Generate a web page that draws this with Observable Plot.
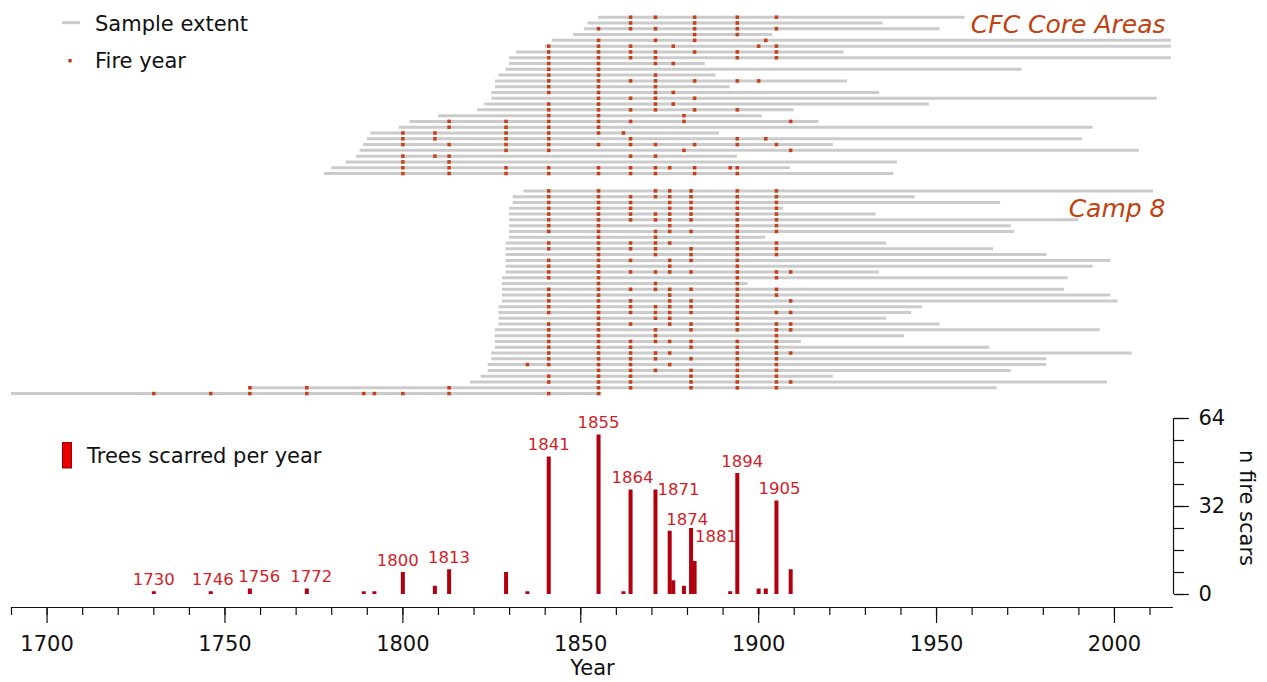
<!DOCTYPE html>
<html><head><meta charset="utf-8">
<script src="https://cdn.jsdelivr.net/npm/d3@7"></script>
<script src="https://cdn.jsdelivr.net/npm/@observablehq/plot@0.6"></script>
<style>
html,body{margin:0;padding:0;background:#fff;}
#chart{position:relative;width:1267px;height:682px;font-family:"DejaVu Sans",sans-serif;}
#chart > svg{display:block;overflow:visible;}
#legend{position:absolute;left:0;top:0;}
</style></head><body><div id="chart"></div>
<script>
// ---------- data ----------
const groupNames = ["CFC Core Areas", "Camp 8"];

const cfcStart = [1855,1852,1851,1848,1842,1840,1832,1830,1830,1829,1827,1826,1826,1825,1825,1823,1821,1810,1802,1799,1791,1790,1789,1788,1787,1784,1780,1778];
const cfcEnd   = [1958,1935,1951,1904,2016,2016,1924,2016,1885,1974,1888,1925,1892,1934,2012,1948,1910,1901,1917,1994,1889,1991,1921,2007,1894,1939,1909,1938];
const cfcFires = [
 [1864,1871,1882,1894,1905],
 [1864,1882,1894],
 [1855,1864,1871,1882,1894,1905],
 [1882,1894],
 [1855,1871,1882,1902],
 [1841,1855,1864,1876,1900,1905],
 [1841,1855,1864,1871,1882,1894,1905],
 [1841,1855,1864,1871,1894,1905],
 [1841,1855,1871,1876],
 [1841,1855],
 [1841,1855,1871],
 [1841,1855,1864,1871,1882,1894,1900],
 [1841,1855,1871],
 [1841,1855,1871,1876],
 [1855,1864,1871,1882],
 [1841,1855,1871,1876],
 [1841,1855,1864,1871,1882,1894],
 [1841,1855,1879],
 [1813,1829,1841,1855,1864,1879,1909],
 [1813,1829,1841,1855],
 [1800,1809,1829,1841,1855,1862],
 [1800,1809,1829,1841,1864,1894,1902],
 [1800,1813,1829,1841,1855,1864,1871,1882,1894,1905],
 [1829,1841,1879,1909],
 [1800,1809,1813,1864,1871],
 [1800,1813],
 [1800,1813,1829,1841,1855,1864,1871,1875,1882,1892,1894],
 [1800,1813,1829,1841,1855,1864,1871,1882,1894]
];

const camp8Start = [1834,1831,1831,1830,1830,1830,1830,1830,1830,1829,1829,1829,1829,1829,1829,1828,1828,1828,1828,1828,1827,1827,1827,1827,1826,1826,1826,1826,1825,1825,1824,1824,1822,1819,1757,1690];
const camp8End   = [2011,1944,1968,1907,1933,1990,1971,1972,1902,1936,1966,1981,1999,1994,1934,1987,1897,1986,1999,2001,1946,1943,1936,1951,1996,1941,1912,1965,2005,1981,1981,1971,1921,1998,1967,1856];
const camp8Fires = [
 [1841,1855,1871,1875,1881,1894,1905],
 [1841,1855,1864,1871,1875,1881,1894,1905],
 [1841,1855,1864,1875,1881,1894,1905],
 [1841,1855,1864,1875,1881,1894,1905],
 [1841,1855,1864,1871,1875,1881,1894,1905],
 [1841,1855,1864,1871,1875,1881,1894,1905],
 [1841,1855,1875,1894,1905],
 [1841,1855,1871,1875,1881,1894,1905],
 [1855,1871,1894],
 [1841,1855,1864,1871,1875,1894,1905],
 [1841,1855,1864,1871,1881,1894,1905],
 [1855,1871,1881,1894,1905],
 [1841,1855,1864,1875,1881,1894],
 [1841,1855,1875,1894],
 [1841,1855,1864,1871,1875,1881,1894,1905,1909],
 [1841,1855,1894,1905],
 [1855,1871,1894],
 [1841,1855,1864,1871,1875,1881,1894,1905],
 [1841,1855,1875,1894,1905],
 [1841,1855,1864,1875,1881,1894,1909],
 [1841,1855,1864,1871,1875,1881,1894],
 [1841,1855,1864,1871,1875,1881,1894,1905,1909],
 [1855,1871,1875,1894],
 [1841,1855,1864,1875,1881,1894,1905,1909],
 [1841,1855,1871,1881,1894,1905,1909],
 [1841,1855,1871,1905],
 [1841,1855,1864,1871,1875,1881,1894,1905],
 [1841,1855,1864,1881,1894,1905],
 [1841,1855,1864,1871,1875,1894,1905,1909],
 [1841,1855,1864,1871,1881,1894,1905],
 [1835,1841,1855,1864,1875,1894,1905],
 [1855,1864,1871,1881,1894,1905],
 [1841,1855,1864,1881,1894,1905],
 [1841,1855,1864,1881,1894,1905,1909],
 [1757,1773,1813,1855,1864,1881,1894,1905],
 [1730,1746,1757,1773,1789,1792,1800,1813,1841,1855]
];

const scarYears  = [1730,1746,1757,1773,1789,1792,1800,1809,1813,1829,1835,1841,1855,1862,1864,1871,1875,1876,1879,1881,1882,1892,1894,1900,1902,1905,1909];
const scarCounts = [1,1,2,2,1,1,8,3,9,8,1,50,58,1,38,38,23,5,3,24,12,1,44,2,2,34,9];

const labelYears = [1730,1746,1756,1772,1800,1813,1841,1855,1864,1871,1874,1881,1894,1905];

const xTicksMajor = [1700,1750,1800,1850,1900,1950,2000];
const yTicksMajor = [0,32,64];

// ---------- derived tables ----------
const xDomain = [1690, 2016.6];
const groupGap = 2;
const samples = [];
const fires = [];
function addGroup(starts, ends, fireLists, offset) {
  starts.forEach((s, i) => {
    const row = offset + i;
    samples.push({row, start: s, end: ends[i]});
    fireLists[i].forEach(y => fires.push({row, year: y}));
  });
}
addGroup(cfcStart, cfcEnd, cfcFires, 0);
const camp8Offset = cfcStart.length + groupGap;
addGroup(camp8Start, camp8End, camp8Fires, camp8Offset);
const lastRow = camp8Offset + camp8Start.length - 1;

const bars = scarYears.map((year, i) => ({year, n: scarCounts[i]}));
const labels = labelYears.map(year => {
  const near = bars.filter(b => Math.abs(b.year - year) <= 1);
  const n = d3.max(near, b => b.n);
  return {year, n, label: String(year)};
});

// ---------- styles ----------
const FONT = "DejaVu Sans";
const grey = "#cbcbcb";
const fireColor = "#c4411a";
const groupColor = "#c2410f";
const barColor = "#b2000f";
const labelColor = "#d21e28";
const labelNudge = {1746: [2, 0], 1756: [13, 0], 1772: [8, 0], 1800: [-5, 0], 1864: [2, 0],
                    1871: [23, 12], 1874: [21, 0], 1881: [25, 20], 1894: [5, 0], 1905: [3, 0]};

// ---------- top panel ----------
const topPlot = Plot.plot({
  width: 1267, height: 405,
  marginTop: 0, marginBottom: 0, marginLeft: 11, marginRight: 94,
  style: {fontFamily: FONT, background: "transparent"},
  x: {domain: xDomain, axis: null},
  y: {domain: [0, lastRow], range: [16.7, 16.7 + lastRow * 5.79], axis: null},
  marks: [
    Plot.ruleY(samples, {y: "row", x1: "start", x2: "end", stroke: grey, strokeWidth: 3}),
    Plot.dot(fires, {x: "year", y: "row", symbol: "square", r: 2.0, fill: fireColor, stroke: "none"}),
    Plot.text([groupNames[0]], {text: d => d, frameAnchor: "top-right", textAnchor: "end", lineAnchor: "middle",
      dx: -8, dy: 24, fontSize: 25, fontStyle: "italic", fill: groupColor}),
    Plot.text([groupNames[1]], {text: d => d, frameAnchor: "top-right", textAnchor: "end", lineAnchor: "middle",
      dx: -8, dy: 208, fontSize: 25, fontStyle: "italic", fill: groupColor})
  ]
});

// ---------- bottom panel ----------
const labelMarks = labels.map(d => {
  const [nx, ny] = labelNudge[d.year] || [0, 0];
  return Plot.text([d], {x: "year", y: "n", text: "label", dx: nx, dy: -12 + ny,
    fontSize: 16.5, fill: labelColor});
});

const bottomPlot = Plot.plot({
  width: 1267, height: 277,
  marginTop: 13, marginBottom: 75, marginLeft: 11, marginRight: 94,
  style: {fontFamily: FONT, background: "transparent", color: "#111", overflow: "visible"},
  x: {domain: xDomain, axis: null, label: null},
  y: {domain: [0, 64], range: [189, 13], axis: null, label: null},
  marks: [
    Plot.ruleY([0], {dy: 13, stroke: "#111", strokeWidth: 1.2}),
    Plot.axisX(d3.range(1690, 2017, 10), {anchor: "bottom", tickSize: 8, tickFormat: () => "", label: null, strokeWidth: 1.2}),
    Plot.axisX(xTicksMajor, {anchor: "bottom", tickSize: 16, tickPadding: 13, tickFormat: d => String(d),
      fontSize: 21, label: null, strokeWidth: 1.2}),
    Plot.ruleX([xDomain[1]], {y1: 0, y2: 64, stroke: "#111", strokeWidth: 1.2}),
    Plot.axisY(d3.range(0, 65, 8), {anchor: "right", tickSize: 10, tickFormat: () => "", label: null, strokeWidth: 1.2}),
    Plot.axisY(yTicksMajor, {anchor: "right", tickSize: 15, tickPadding: 10, tickFormat: d => String(d),
      fontSize: 21, label: null, strokeWidth: 1.2}),
    Plot.ruleX(bars, {x: "year", y1: 0, y2: "n", stroke: barColor, strokeWidth: 4}),
    ...labelMarks,
    Plot.text(["Year"], {text: d => d, frameAnchor: "bottom", lineAnchor: "middle", textAnchor: "middle",
      dy: 61, fontSize: 21, fill: "#111"}),
    Plot.text(["n fire scars"], {text: d => d, frameAnchor: "right", textAnchor: "middle", lineAnchor: "middle",
      dx: 73, dy: -5, rotate: 90, fontSize: 21, fill: "#111"})
  ]
});

const chart = document.getElementById("chart");
chart.appendChild(topPlot);
chart.appendChild(bottomPlot);

// ---------- legends ----------
const legend = d3.select(chart).append("svg").attr("id", "legend")
  .attr("width", 1267).attr("height", 682)
  .style("font-family", FONT);
legend.append("line").attr("x1", 62).attr("x2", 80).attr("y1", 22.7).attr("y2", 22.7)
  .attr("stroke", grey).attr("stroke-width", 3);
legend.append("text").attr("x", 95).attr("y", 30.5).attr("font-size", 21).attr("fill", "#111").text("Sample extent");
legend.append("rect").attr("x", 68.3).attr("y", 59).attr("width", 3.4).attr("height", 3.4).attr("fill", fireColor);
legend.append("text").attr("x", 95).attr("y", 68.3).attr("font-size", 21).attr("fill", "#111").text("Fire year");
legend.append("rect").attr("x", 62.5).attr("y", 442.5).attr("width", 9).attr("height", 25.5)
  .attr("fill", "#e60000").attr("stroke", "#9a0000").attr("stroke-width", 1);
legend.append("text").attr("x", 87).attr("y", 463.3).attr("font-size", 21).attr("fill", "#111").text("Trees scarred per year");
</script></body></html>
